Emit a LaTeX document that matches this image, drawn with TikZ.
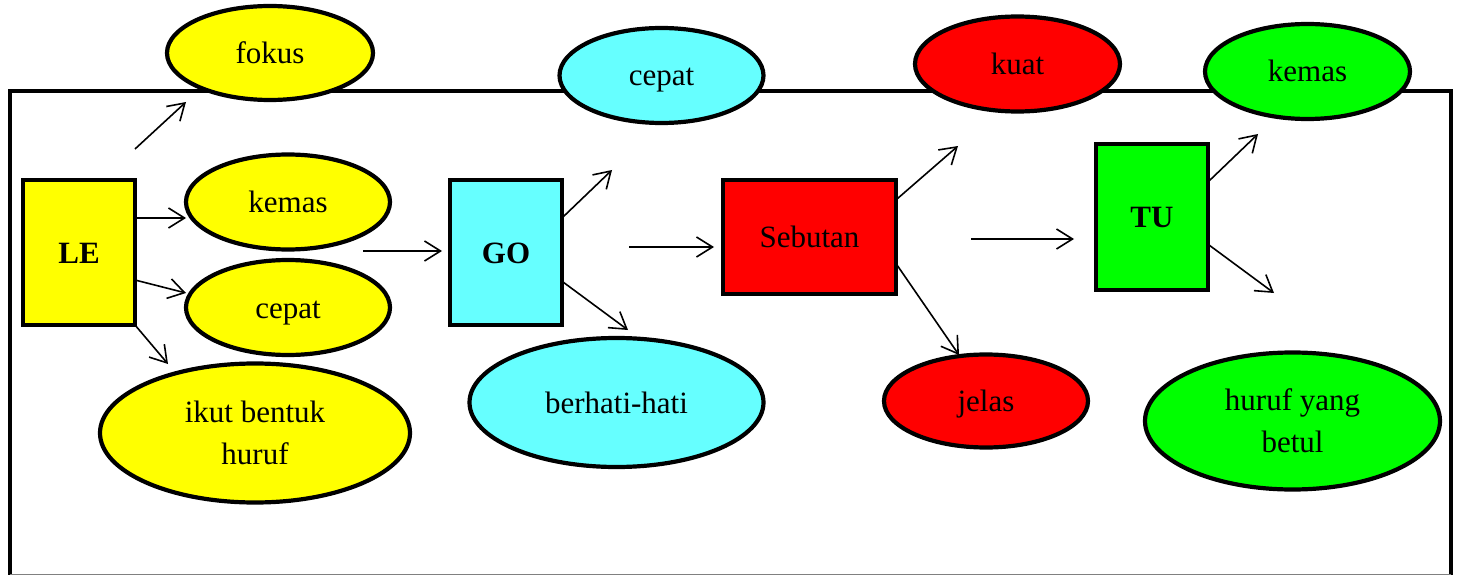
\documentclass[tikz,border=0pt]{standalone}
\usepackage{fontspec}
\setmainfont{Liberation Serif}
\usetikzlibrary{shapes.geometric,arrows.meta}
\definecolor{cY}{HTML}{FFFF00}
\definecolor{cC}{HTML}{66FFFF}
\definecolor{cR}{HTML}{FF0000}
\definecolor{cG}{HTML}{00FF00}
\tikzset{
  ell/.style={ellipse,draw=black,line width=4.2pt,inner sep=0pt,align=center,
    font=\fontsize{31}{42}\selectfont},
  oneline/.style={text height=21pt,text depth=0pt},
  boxn/.style={rectangle,draw=black,line width=4.2pt,inner sep=0pt,align=center,
    font=\fontsize{31}{42}\selectfont},
  arr/.style={line width=1.6pt,-{Straight Barb[length=16pt,width=20pt,line width=1.6pt]}},
}
\begin{document}
\begin{tikzpicture}[x=1pt,y=-1pt]
\useasboundingbox (0,0) rectangle (1457,575);
% frame
\draw[line width=4pt] (10,577) -- (10,91) -- (1451,91) -- (1451,577);
\draw[line width=1pt,gray] (10,574.5) -- (1451,574.5);
% LE group
\node[boxn,oneline,fill=cY,minimum width=112pt,minimum height=145pt,font=\fontsize{31}{42}\selectfont\bfseries] (LE) at (79,252.5) {LE};
\node[ell,oneline,fill=cY,minimum width=206pt,minimum height=94pt] (fokus) at (270,53) {fokus};
\node[ell,oneline,fill=cY,minimum width=204pt,minimum height=95pt] (kemasY) at (288,202) {kemas};
\node[ell,oneline,fill=cY,minimum width=204pt,minimum height=95pt] (cepatY) at (288,307.5) {cepat};
\node[ell,fill=cY,minimum width=310pt,minimum height=139pt] (ikut) at (255,433) {ikut bentuk\\huruf};
% GO group
\node[boxn,oneline,fill=cC,minimum width=112pt,minimum height=145pt,font=\fontsize{31}{42}\selectfont\bfseries] (GO) at (506,252.5) {GO};
\node[ell,oneline,fill=cC,minimum width=204pt,minimum height=95pt] (cepatC) at (661.5,75.5) {cepat};
\node[ell,oneline,fill=cC,minimum width=294pt,minimum height=129pt] (berhati) at (616.5,402.5) {berhati-hati};
% Sebutan group
\node[boxn,oneline,fill=cR,minimum width=173pt,minimum height=114pt] (Seb) at (809.5,237) {Sebutan};
\node[ell,oneline,fill=cR,minimum width=205pt,minimum height=95pt] (kuat) at (1017.5,64) {kuat};
\node[ell,oneline,fill=cR,minimum width=204pt,minimum height=93pt] (jelas) at (986,401) {jelas};
% TU group
\node[boxn,oneline,fill=cG,minimum width=112pt,minimum height=146pt,font=\fontsize{31}{42}\selectfont\bfseries] (TU) at (1152,217) {TU};
\node[ell,oneline,fill=cG,minimum width=205pt,minimum height=95pt] (kemasG) at (1307.5,71.5) {kemas};
\node[ell,fill=cG,minimum width=295pt,minimum height=137pt] (huruf) at (1292.5,421) {huruf yang\\betul};
% arrow end points
\coordinate (a1s) at (135,149); \coordinate (a1e) at (186,102);
\coordinate (a2s) at (135,218); \coordinate (a2e) at (186,218);
\coordinate (a3s) at (135,280); \coordinate (a3e) at (186,293);
\coordinate (a4s) at (135,325); \coordinate (a4e) at (168,364);
\coordinate (a5s) at (363,251); \coordinate (a5e) at (442,251);
\coordinate (b1s) at (563,217); \coordinate (b1e) at (612,170);
\coordinate (b2s) at (563,282); \coordinate (b2e) at (628,330);
\coordinate (b3s) at (629,247); \coordinate (b3e) at (714,247);
\coordinate (c1s) at (897,199); \coordinate (c1e) at (958,146);
\coordinate (c2s) at (897,265); \coordinate (c2e) at (959,355);
\coordinate (c3s) at (971,239); \coordinate (c3e) at (1074,239);
\coordinate (d1s) at (1209,181); \coordinate (d1e) at (1258,134);
\coordinate (d2s) at (1209,245); \coordinate (d2e) at (1274,293);
\foreach \p in {a1,a2,a3,a4,a5,b1,b2,b3,c1,c2,c3,d1,d2}
  \draw[arr] (\p s) -- (\p e);
\end{tikzpicture}
\end{document}
